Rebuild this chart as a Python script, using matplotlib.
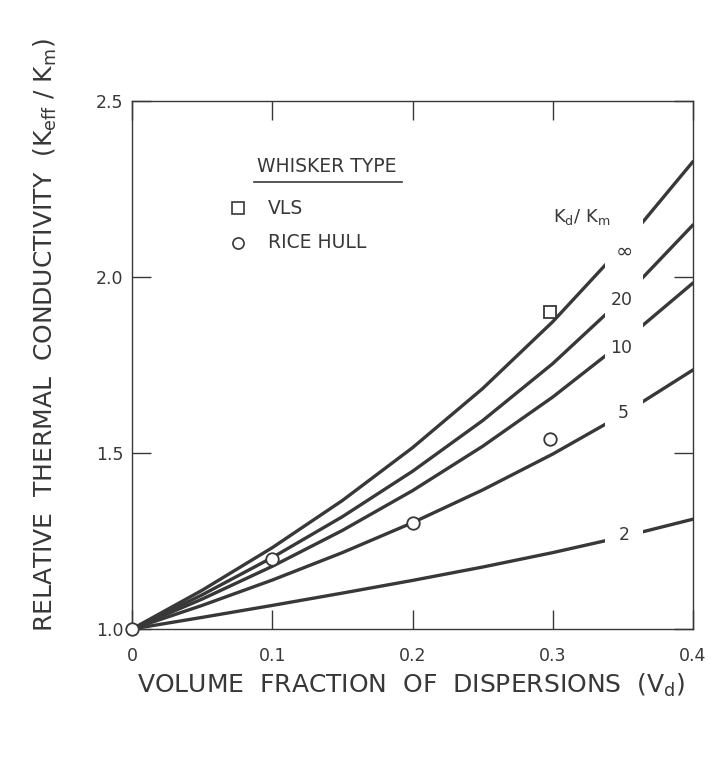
import matplotlib
matplotlib.use('Agg')
import matplotlib.pyplot as plt
from matplotlib.patches import Rectangle

plt.rcParams['font.family'] = ['DejaVu Sans']
plt.rcParams['mathtext.default'] = 'regular'

# volume fraction of dispersions
vd = [0, 0.05, 0.1, 0.15, 0.2, 0.25, 0.3, 0.35, 0.4]

# predicted Keff/Km for each Kd/Km ratio
k_inf = [1.0, 1.11, 1.231, 1.365, 1.515, 1.683, 1.873, 2.088, 2.328]
k_20 = [1.0, 1.097, 1.203, 1.319, 1.448, 1.592, 1.754, 1.939, 2.148]
k_10 = [1.0, 1.085, 1.178, 1.28, 1.393, 1.519, 1.659, 1.815, 1.983]
k_5 = [1.0, 1.067, 1.139, 1.217, 1.302, 1.395, 1.497, 1.61, 1.736]
k_2 = [1.0, 1.033, 1.067, 1.102, 1.138, 1.176, 1.217, 1.262, 1.312]
curves = [k_inf, k_20, k_10, k_5, k_2]
curve_labels = ['\u221e', '20', '10', '5', '2']
label_pos = [(0.351, 2.071), (0.3495, 1.935), (0.3488, 1.798), (0.350, 1.613), (0.351, 1.267)]

# measured points
vls_x = [0.298]
vls_y = [1.9]
rice_x = [0, 0.1, 0.2, 0.298]
rice_y = [1.0, 1.2, 1.3, 1.54]

xticks = [0, 0.1, 0.2, 0.3, 0.4]
xtick_labels = ['0', '0.1', '0.2', '0.3', '0.4']
yticks = [1.0, 1.5, 2.0, 2.5]
ytick_labels = ['1.0', '1.5', '2.0', '2.5']

ink = '#383838'

fig = plt.figure(figsize=(7.25, 7.7), dpi=100)
ax = fig.add_axes([132 / 725, 141 / 770, 561 / 725, 528 / 770])
ax.set_xlim(0, 0.4)
ax.set_ylim(1.0, 2.5)

# each curve is broken where its label sits
gaps = [(0, 0.337), (0.364, 0.4)]
for y in curves:
    for lo, hi in gaps:
        ln, = ax.plot(vd, y, color=ink, lw=2.4, solid_capstyle='round', zorder=2)
        ln.set_clip_path(Rectangle((lo, 0.5), hi - lo, 3, transform=ax.transData))

for lab, (tx, ty) in zip(curve_labels, label_pos):
    fs = 15 if lab == '\u221e' else 12.5
    ax.text(tx, ty, lab, ha='center', va='center', fontsize=fs, color=ink)

ax.text(0.300, 2.170, r'K$_{\rm d}$/ K$_{\rm m}$', ha='left', va='center', fontsize=13, color=ink)

ax.plot(vls_x, vls_y, ls='none', marker='s', ms=9, mfc='white', mec=ink, mew=1.3, zorder=4, clip_on=False)
ax.plot(rice_x, rice_y, ls='none', marker='o', ms=9, mfc='white', mec=ink, mew=1.3, zorder=4, clip_on=False)

# legend box drawn by hand like the original
ax.text(0.1388, 2.3125, 'WHISKER TYPE', ha='center', va='center', fontsize=13.5, color=ink)
ax.plot([0.0868, 0.1922], [2.270, 2.270], lw=1.2, color=ink)
ax.plot([0.0754], [2.196], marker='s', ms=8, mfc='white', mec=ink, mew=1.2)
ax.text(0.097, 2.196, 'VLS', va='center', fontsize=13.5, color=ink)
ax.plot([0.0754], [2.097], marker='o', ms=8, mfc='white', mec=ink, mew=1.2)
ax.text(0.097, 2.097, 'RICE HULL', va='center', fontsize=13.5, color=ink)

ax.set_xticks(xticks)
ax.set_xticklabels(xtick_labels)
ax.set_yticks(yticks)
ax.set_yticklabels(ytick_labels)
ax.tick_params(direction='in', length=14, width=1, top=True, right=True,
               labelsize=12.5, colors=ink)
ax.tick_params(axis='x', pad=13)
ax.tick_params(axis='y', pad=6)
for s in ax.spines.values():
    s.set_linewidth(1.0)
    s.set_color(ink)

ax.set_xlabel(r'VOLUME  FRACTION  OF  DISPERSIONS  (V$_{\rm d}$)', fontsize=18, color=ink, va='center')
ax.xaxis.set_label_coords(0.498, -0.106)
ax.set_ylabel(r'RELATIVE  THERMAL  CONDUCTIVITY  (K$_{\rm eff}$ / K$_{\rm m}$)', fontsize=18, color=ink, va='center')
ax.yaxis.set_label_coords(-0.155, 0.557)

fig.savefig('out.png', dpi=100)
